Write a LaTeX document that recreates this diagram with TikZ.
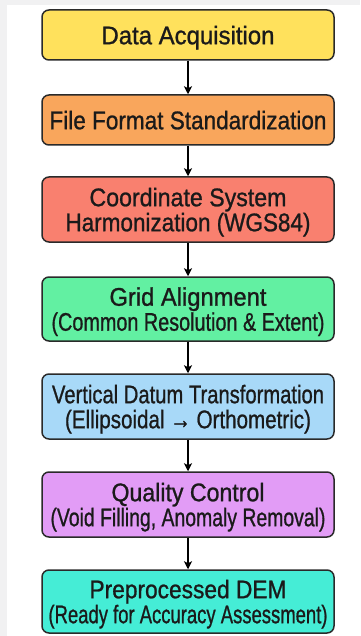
\documentclass[tikz,border=0pt]{standalone}
\usepackage{fontspec}
\usepackage{graphicx}
\setmainfont{Liberation Sans}[FakeBold=1]
\usetikzlibrary{arrows.meta}

\definecolor{pageGray}{HTML}{F1F1F2}
\definecolor{edgeDark}{HTML}{2A2A2A}
\definecolor{inkDark}{HTML}{1A1A1A}
\definecolor{cYellow}{HTML}{FFE15C}
\definecolor{cOrange}{HTML}{F9A65C}
\definecolor{cSalmon}{HTML}{F9806F}
\definecolor{cGreen}{HTML}{62F0A2}
\definecolor{cBlue}{HTML}{A8D9F8}
\definecolor{cPurple}{HTML}{E29CF6}
\definecolor{cTeal}{HTML}{45EDD6}

% one line of a label, set to a given width at its natural height
\newcommand{\lineto}[2]{\resizebox{#1pt}{\height}{#2}}

\tikzset{
  stage/.style={draw=edgeDark, line width=1.5pt, rounded corners=7pt,
    minimum width=292pt, inner sep=0pt, align=center, text depth=0pt,
    text=inkDark, font=\fontsize{25.5}{25}\selectfont},
  flow/.style={draw=black, line width=1.4pt,
    -{Stealth[length=8pt,width=8pt,inset=2pt]}}
}

\begin{document}
\begin{tikzpicture}[x=1pt, y=-1pt]
  \useasboundingbox (0,0) rectangle (360,636);
  % page backdrop
  \fill[pageGray] (0,0) rectangle (360,636);
  \fill[white] (7,5) rectangle (360,636);

  \node[stage, fill=cYellow, minimum height=50pt] (acq) at (188,35)
    {\lineto{173}{Data Acquisition}};
  \node[stage, fill=cOrange, minimum height=50pt] (fmt) at (188,120)
    {\lineto{277}{File Format Standardization}};
  \node[stage, fill=cSalmon, minimum height=65pt] (crs) at (188,209.5)
    {\lineto{197}{Coordinate System}\\\lineto{245}{Harmonization (WGS84)}};
  \node[stage, fill=cGreen, minimum height=64pt] (grid) at (188,309)
    {\lineto{157}{Grid Alignment}\\\lineto{273}{(Common Resolution \& Extent)}};
  \node[stage, fill=cBlue, minimum height=65pt] (vert) at (188,406.5)
    {\lineto{272}{Vertical Datum Transformation}\\\lineto{246}{(Ellipsoidal → Orthometric)}};
  \node[stage, fill=cPurple, minimum height=65pt] (qc) at (188,504.5)
    {\lineto{153}{Quality Control}\\\lineto{275}{(Void Filling, Anomaly Removal)}};
  \node[stage, fill=cTeal, minimum height=63pt] (dem) at (188,601.5)
    {\lineto{197}{Preprocessed DEM}\\\lineto{279}{(Ready for Accuracy Assessment)}};

  \draw[flow] (acq) -- (fmt);
  \draw[flow] (fmt) -- (crs);
  \draw[flow] (crs) -- (grid);
  \draw[flow] (grid) -- (vert);
  \draw[flow] (vert) -- (qc);
  \draw[flow] (qc) -- (dem);
\end{tikzpicture}
\end{document}
